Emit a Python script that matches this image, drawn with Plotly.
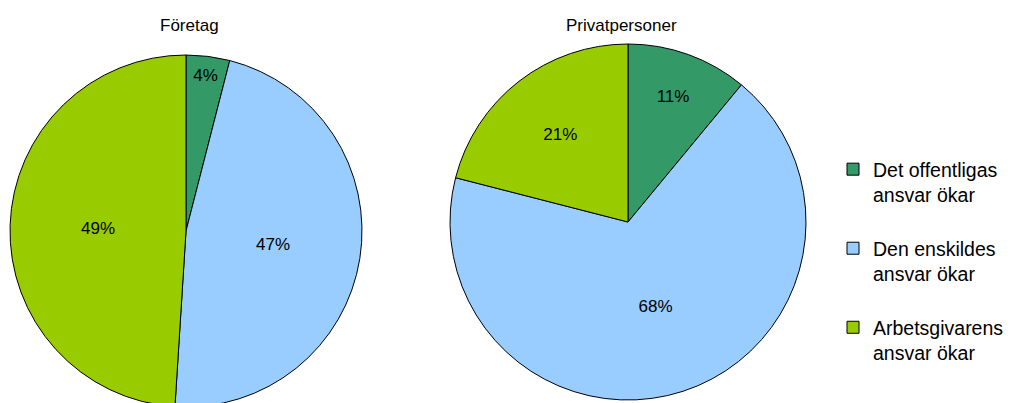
import plotly.graph_objects as go

categories = ["Det offentligas<br>ansvar ökar<br> ", "Den enskildes<br>ansvar ökar<br> ", "Arbetsgivarens<br>ansvar ökar<br> "]
foretag = [4, 47, 49]
privat = [11, 68, 21]
titles = ["Företag", "Privatpersoner"]
colors = ["#339966", "#99CCFF", "#99CC00"]

W, H = 1013, 403
OFF = 8  # page body margin
FONT = "Liberation Sans, Arial, sans-serif"

def dom(cx, cy, r):
    cx, cy = cx - OFF, cy - OFF
    return dict(x=[(cx - r) / W, (cx + r) / W], y=[1 - (cy + r) / H, 1 - (cy - r) / H])

pies = [(foretag, titles[0], (186, 231, 176), True, 189),
        (privat, titles[1], (628, 222, 178), False, 621)]

fig = go.Figure()
for vals, title, (cx, cy, r), show, tx in pies:
    fig.add_trace(go.Pie(
        labels=categories, values=vals, sort=False, direction="clockwise", rotation=0,
        marker=dict(colors=colors, line=dict(color="black", width=1)),
        texttemplate="%{value}%", textposition="inside",
        insidetextorientation="horizontal",
        textfont=dict(family=FONT, size=17, color="black"),
        domain=dom(cx, cy, r), showlegend=show, hoverinfo="label+percent",
    ))
    fig.add_annotation(text=title, x=(tx - OFF) / W, y=1 - (26 - OFF) / H,
                       xref="paper", yref="paper",
                       xanchor="center", yanchor="middle", showarrow=False,
                       font=dict(family=FONT, size=17, color="black"))

fig.update_layout(
    width=W, height=H, margin=dict(l=0, r=0, t=0, b=0),
    paper_bgcolor="white", plot_bgcolor="white",
    legend=dict(x=825 / W, y=1 - 142 / H, xanchor="left", yanchor="top",
                font=dict(family=FONT, size=19.5, color="black"),
                valign="top", itemwidth=30),
)
fig.write_html("out.html")
